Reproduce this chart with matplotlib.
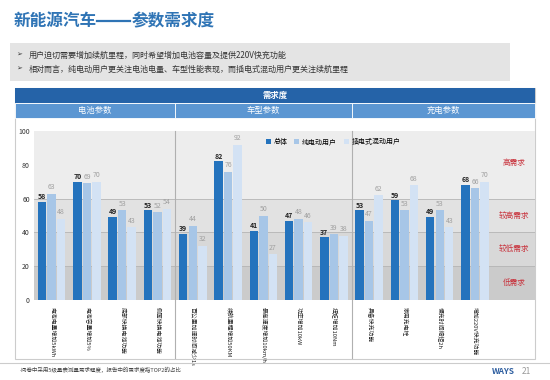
import numpy as np
import matplotlib.pyplot as plt
from matplotlib.patches import Rectangle
from matplotlib.lines import Line2D

plt.rcParams['font.family'] = ['Noto Sans CJK SC', 'DejaVu Sans']

# data
categories = ['电池电量增加5kWh', '电池容量增加5%', '底部快换电池功能', '侧面快换电池功能',
              '百公里加速时间减少1s', '续航里程增加50KM', '最高速度增加10km/h', '功率增加10kW', '扭矩增加10Nm',
              '具备快充功能', '家用充电桩', '慢充时间缩短2h', '增加220V快充功能']
total = [58, 70, 49, 53, 39, 82, 41, 47, 37, 53, 59, 49, 68]
bev = [63, 69, 53, 52, 44, 76, 50, 48, 39, 47, 53, 53, 66]
phev = [48, 70, 43, 54, 32, 92, 27, 46, 38, 62, 68, 43, 70]
series_names = ['总体', '纯电动用户', '插电式混动用户']
sections = ['电池参数', '车型参数', '充电参数']
section_sizes = [4, 5, 4]
bands = [(60, 100, '高需求'), (40, 60, '较高需求'), (20, 40, '较低需求'), (0, 20, '低需求')]

W, H = 550, 380
fig = plt.figure(figsize=(W / 100, H / 100), dpi=100)


def fx(px):
    return px / W


def fy(py):
    return 1 - py / H


# title and bullet box
title_c = '#2f74b5'
fig.text(fx(14), fy(21), '新能源汽车', fontsize=12, fontweight='bold', color=title_c, va='center')
fig.lines.append(Line2D([fx(97), fx(130)], [fy(21), fy(21)], transform=fig.transFigure,
                        color=title_c, lw=1.6))
fig.text(fx(132), fy(21), '参数需求度', fontsize=12, fontweight='bold', color=title_c, va='center')
fig.patches.append(Rectangle((fx(10), fy(81)), fx(500), 38 / H, transform=fig.transFigure,
                             facecolor='#e4e4e4', edgecolor='none', zorder=-5))
bullets = ['用户迫切需要增加续航里程，同时希望增加电池容量及提供220V快充功能',
           '相对而言，纯电动用户更关注电池电量、车型性能表现，而插电式混动用户更关注续航里程']
for i, b in enumerate(bullets):
    y = fy(55 + 14 * i)
    fig.text(fx(16), y, '➢', fontsize=5, va='center', color='#333333')
    fig.text(fx(29), y, b, fontsize=5.8, va='center', color='#333333')

# outer frame
fig.patches.append(Rectangle((fx(15), fy(359)), fx(520), 271 / H, transform=fig.transFigure,
                             facecolor='white', edgecolor='#cccccc', lw=0.8, zorder=-10))
# header bars
fig.patches.append(Rectangle((fx(15), fy(103)), fx(520), 15 / H, transform=fig.transFigure,
                             facecolor='#2563a8', edgecolor='none', zorder=-5))
fig.text(fx(275), fy(95.5), '需求度', fontsize=6, color='white', fontweight='bold',
         ha='center', va='center')

ax = fig.add_axes([fx(34), fy(300), fx(501), 169 / H])
ax.patch.set_alpha(0)
x = np.arange(len(categories))
ax.set_xlim(-0.5, 13.7)
ax.set_ylim(0, 100)

shades = ['#ededed', '#e2e2e2', '#d8d8d8', '#cbcbcb']
for (lo, hi, lab), c in zip(bands, shades):
    ax.axhspan(lo, hi, color=c, zorder=0, lw=0)
    ax.text(13.1, (lo + hi) / 2 if hi < 100 else 81, lab, fontsize=5.5, color='#c8303a',
            ha='center', va='center')
for v in [20, 40, 60]:
    ax.axhline(v, color='#b5b5b5', lw=0.6, zorder=0.5)

colors = ['#2473bd', '#a7c6e7', '#d3e2f4']
w = 0.24
offs = [-0.27, 0, 0.27]
for vals, name, c, o in zip([total, bev, phev], series_names, colors, offs):
    ax.bar(x + o, vals, w, color=c, label=name, zorder=2)
    for xi, v in zip(x, vals):
        if name == '总体':
            ax.text(xi + o, v + 1, str(v), fontsize=5, fontweight='bold', color='#222222',
                    ha='center', va='bottom')
        else:
            ax.text(xi + o, v + 1.5, str(v), fontsize=5, color='#a0a0a0',
                    ha='center', va='bottom')

for s in ax.spines.values():
    s.set_visible(False)
ax.set_xticks([])
ax.set_yticks([0, 20, 40, 60, 80, 100])
ax.tick_params(axis='y', length=0, labelsize=5, colors='#333333', pad=3)

# category labels, vertical
for xi, lab in zip(x, categories):
    ax.text(xi, -4, lab, rotation=-90, fontsize=4.2, ha='center', va='top', color='#222222')

# section headers and dividers
edges = np.cumsum([0] + section_sizes) - 0.5
inv = fig.transFigure.inverted()
for i, name in enumerate(sections):
    x0 = fx(15) if i == 0 else inv.transform(ax.transData.transform((edges[i], 0)))[0]
    x1 = fx(535) if i == len(sections) - 1 else inv.transform(ax.transData.transform((edges[i + 1], 0)))[0]
    fig.patches.append(Rectangle((x0, fy(118)), x1 - x0, 15 / H, transform=fig.transFigure,
                                 facecolor='#5b96d2', edgecolor='white', lw=0.6, zorder=-5))
    fig.text((x0 + x1) / 2, fy(110.5), name, fontsize=6, color='white', ha='center', va='center')
for e in edges[1:-1]:
    ax.plot([e, e], [-0.345, 1.0], transform=ax.get_xaxis_transform(), color='#b0b0b0',
            lw=0.8, clip_on=False, zorder=3)

ax.legend(loc='upper left', bbox_to_anchor=(0.45, 0.995), ncol=3, frameon=False,
          fontsize=5, handlelength=0.7, handleheight=0.7, columnspacing=1.0, handletextpad=0.4)

# footer
fig.lines.append(Line2D([0, 1], [fy(363), fy(363)], transform=fig.transFigure,
                        color='#cccccc', lw=0.8))
fig.text(fx(20), fy(370), '-问卷中采用5级量表测量需求程度，报告中的需求度指TOP2的占比',
         fontsize=4, color='#444444', va='center')
fig.text(fx(492), fy(372), 'WAYS', fontsize=6, fontweight='bold', style='italic',
         color='#2f5fa0', va='center')
fig.text(fx(522), fy(372), '21', fontsize=6, color='#999999', va='center')

fig.savefig('out.png', dpi=100)
